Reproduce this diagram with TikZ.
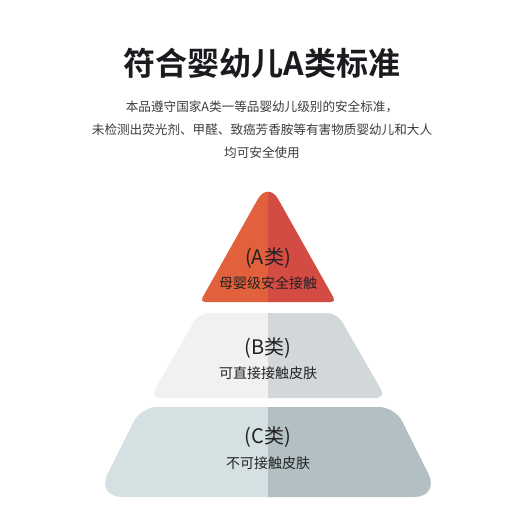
\documentclass[tikz,border=0pt]{standalone}
\usepackage{fontspec}
\setmainfont{Noto Sans CJK SC}[BoldFont={Noto Sans CJK SC Bold}]
\definecolor{aleft}{HTML}{E2603C}
\definecolor{aright}{HTML}{D44B43}
\definecolor{bleft}{HTML}{F1F1F1}
\definecolor{bright}{HTML}{D2D7DA}
\definecolor{cleft}{HTML}{D4E0E2}
\definecolor{cright}{HTML}{B2BFC3}
\definecolor{titlec}{HTML}{1A1A1F}
\definecolor{subc}{HTML}{3C3C3C}
\definecolor{labc}{HTML}{222222}
\tikzset{
  titletext/.style={font=\fontsize{32}{36}\selectfont\bfseries, text=titlec, inner sep=0},
  subtext/.style={font=\fontsize{12.6}{15}\selectfont, text=subc, inner sep=0},
  classtext/.style={font=\fontsize{20}{24}\selectfont, text=labc, inner sep=0},
  desctext/.style={font=\fontsize{14}{17}\selectfont, text=labc, inner sep=0},
}
\newcommand{\tierA}{(268,302) [rounded corners=5] -- (200,302) [rounded corners=21] -- (268,181) [rounded corners=5] -- (336,302) -- cycle}
\newcommand{\tierB}{(268,398) [rounded corners=10] -- (150,398) -- (199,313) -- (337,313) -- (386,398) -- cycle}
\newcommand{\tierC}{(268,497) [rounded corners=26] -- (96,497) [rounded corners=16] -- (141,407) -- (395,407) [rounded corners=26] -- (440,497) -- cycle}
\begin{document}
\begin{tikzpicture}[x=1pt,y=-1pt]
\useasboundingbox[fill=white] (0,0) rectangle (520,527);
% tier A
\begin{scope}
\clip (0,0) rectangle (268,527);
\fill[aleft] \tierA;
\end{scope}
\begin{scope}
\clip (268,0) rectangle (520,527);
\fill[aright] \tierA;
\end{scope}
% tier B
\begin{scope}
\clip (0,0) rectangle (268,527);
\fill[bleft] \tierB;
\end{scope}
\begin{scope}
\clip (268,0) rectangle (520,527);
\fill[bright] \tierB;
\end{scope}
% tier C
\begin{scope}
\clip (0,0) rectangle (268,527);
\fill[cleft] \tierC;
\end{scope}
\begin{scope}
\clip (268,0) rectangle (520,527);
\fill[cright] \tierC;
\end{scope}
% texts
\node[titletext] (title) at (262,63) {符合婴幼儿A类标准};
\node[subtext] (s1) at (262,107) {本品遵守国家A类一等品婴幼儿级别的安全标准，};
\node[subtext] (s2) at (262,130) {未检测出荧光剂、甲醛、致癌芳香胺等有害物质婴幼儿和大人};
\node[subtext] (s3) at (262,153) {均可安全使用};
\node[classtext] (ca) at (268,258) {(A类)};
\node[desctext] (da) at (268,283) {母婴级安全接触};
\node[classtext] (cb) at (268,348) {(B类)};
\node[desctext] (db) at (268,373) {可直接接触皮肤};
\node[classtext] (cc) at (268,437) {(C类)};
\node[desctext] (dc) at (268,463) {不可接触皮肤};
\end{tikzpicture}
\end{document}
